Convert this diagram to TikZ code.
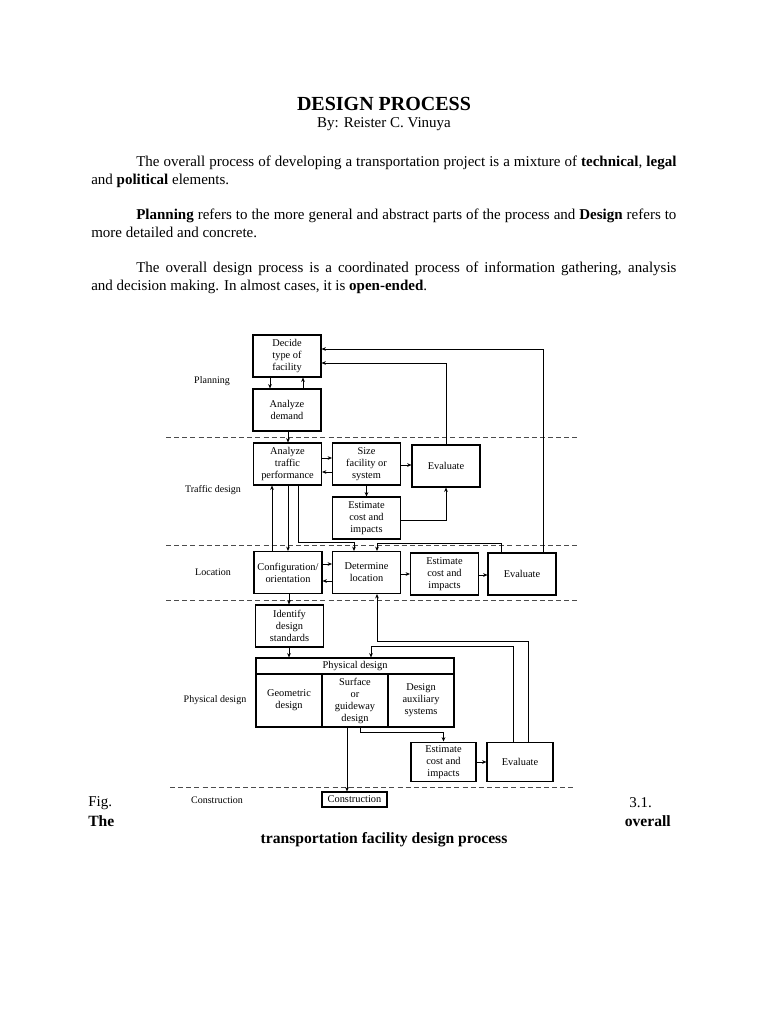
\documentclass[tikz,border=0pt]{standalone}
\usepackage{fontspec}
\setmainfont{Liberation Serif}
\usetikzlibrary{arrows.meta}

\begin{document}
\begin{tikzpicture}[x=0.0281cm, y=-0.0281cm,
	box/.style={draw, line width=.9pt, inner sep=1pt, align=center, minimum width=1.91cm, minimum height=1.18cm, font=\fontsize{8.3}{9.6}\selectfont},
	cell/.style={box, minimum width=1.855cm, minimum height=1.49cm},
	lbl/.style={font=\fontsize{8}{9.6}\selectfont},
	arr/.style={line width=.6pt, -{Stealth[length=3.5pt,width=3pt]}},
	sep/.style={line width=.8pt, dash pattern=on 4pt off 2.5pt, black!70},
	txt/.style={text width=468pt, align=justify, inner sep=0pt, anchor=north west, font=\fontsize{12}{14.3}\selectfont},
	word/.style={inner sep=0pt, font=\fontsize{12}{14.3}\selectfont},
	bword/.style={inner sep=0pt, font=\fontsize{12.5}{14.3}\bfseries\selectfont}]
	\useasboundingbox[fill=white] (0,0) rectangle (768,1024);
		\node[font=\fontsize{16}{19}\bfseries\selectfont] (ttl) at (384,104) {DESIGN PROCESS};
		\node[word] (by) at (384,124) {By: Reister C. Vinuya};
		\node[txt] (t1) at (91,156) {\hspace*{36pt}The overall process of developing a transportation project is a mixture of \textbf{technical}, \textbf{legal} \linebreak and \textbf{political} elements.};
		\node[txt] (t2) at (91,209) {\hspace*{36pt}\textbf{Planning} refers to the more general and abstract parts of the process and \textbf{Design} refers to \linebreak more detailed and concrete.};
		\node[txt] (t3) at (91,262) {\hspace*{36pt}The overall design process is a coordinated process of information gathering, analysis \linebreak and decision making. In almost cases, it is \textbf{open-ended}.};

		\node[lbl] (R1) at (212,381) {Planning};
		\node[lbl] (R2) at (213,490) {Traffic design};
		\node[lbl] (R3) at (213,572) {Location};
		\node[lbl] (R4) at (215,700) {Physical design};
		\node[lbl] (R5) at (217,800) {Construction};

		\draw[sep] (166,437) -- (578,437);
		\draw[sep] (166,545) -- (578,545);
		\draw[sep] (166,600) -- (578,600);
		\draw[sep] (170,787) -- (574,787);

		\node[box] (P1) at (287,356) {Decide\\type of\\facility};
		\node[box] (P2) at (287,410) {Analyze\\demand};
			\draw[arr] (P1.south -| 270,0) -- (P2.north -| 270,0);
			\draw[arr] (P2.north -| 303,0) -- (P1.south -| 303,0);

		\node[box] (T1) at (287.5,464) {Analyze\\traffic\\performance};
		\node[box] (T2) at (366.5,464) {Size\\facility or\\system};
		\node[box] (T3) at (446,466) {Evaluate};
		\node[box] (T4) at (366.5,518) {Estimate\\cost and\\impacts};
			\draw[arr] (P2.south -| 288,0) -- (T1.north -| 288,0);
			\draw[arr] (T1.east |- 0,458) -- (T2.west |- 0,458);
			\draw[arr] (T2.west |- 0,472) -- (T1.east |- 0,472);
			\draw[arr] (T2.east |- 0,465) -- (T3.west |- 0,465);
			\draw[arr] (T2) -- (T4);
			\draw[arr] (T4.east |- 0,520) -| (T3.south);
			\draw[arr] (T3.north) |- (P1.east |- 0,363);

		\node[box] (L1) at (288,572.5) {Configuration/\\orientation};
		\node[box] (L2) at (366.5,572.5) {Determine\\location};
		\node[box] (L3) at (444.5,574) {Estimate\\cost and\\impacts};
		\node[box] (L4) at (522,574) {Evaluate};
			\draw[arr] (L1.north -| 272,0) -- (T1.south -| 272,0);
			\draw[arr] (T1.south -| 288,0) -- (L1.north -| 288,0);
			\draw[arr] (T1.south -| 298,0) -- (298,542) -| (L2.north -| 354,0);
			\draw[arr] (L4.north -| 501,0) -- (501,543) -| (L2.north -| 377,0);
			\draw[arr] (L1.east |- 0,564) -- (L2.west |- 0,564);
			\draw[arr] (L2.west |- 0,581) -- (L1.east |- 0,581);
			\draw[arr] (L2.east |- 0,574) -- (L3.west |- 0,574);
			\draw[arr] (L3.east |- 0,575) -- (L4.west |- 0,575);
			\draw[arr] (L4.north -| 543,0) |- (P1.east |- 0,349);

		\node[box] (S1) at (289.5,626) {Identify\\design\\standards};
			\draw[arr] (L1.south -| 289,0) -- (S1.north -| 289,0);

		\node[box, minimum width=5.564cm, minimum height=.45cm] (G0) at (355,666) {Physical design};
		\node[cell] (G1) at (289,700.5) {Geometric\\design};
		\node[cell] (G2) at (355,700.5) {Surface\\or\\guideway\\design};
		\node[cell] (G3) at (421,700.5) {Design\\auxiliary\\systems};
			\draw[arr] (S1.south -| 289,0) -- (G0.north -| 289,0);

		\node[box, minimum width=1.83cm, minimum height=1.12cm] (E1) at (443.5,762) {Estimate\\cost and\\impacts};
		\node[box, minimum width=1.855cm, minimum height=1.12cm] (E2) at (520,762) {Evaluate};
		\node[box, minimum width=1.83cm, minimum height=.42cm] (C1) at (354.5,799.5) {Construction};
			\draw[arr] (G2.south -| 360,0) -- (360,732) -| (E1.north);
			\draw[arr] (E1) -- (E2);
			\draw[arr] (E2.north -| 513,0) -- (513,646) -| (G0.north -| 371,0);
			\draw[arr] (E2.north -| 528,0) -- (528,641) -| (L2.south -| 377,0);
			\draw[arr] (G2.south -| 347,0) -- (C1.north -| 347,0);

		\node[word, anchor=west] (f1) at (88,803) {Fig.};
		\node[word, anchor=east] (f2) at (652,803) {3.1.};
		\node[bword, anchor=west] (f3) at (88,821) {The};
		\node[bword, anchor=east] (f4) at (671,821) {overall};
		\node[bword] (f5) at (384,840) {transportation facility design process};
	\end{tikzpicture}
\end{document}
